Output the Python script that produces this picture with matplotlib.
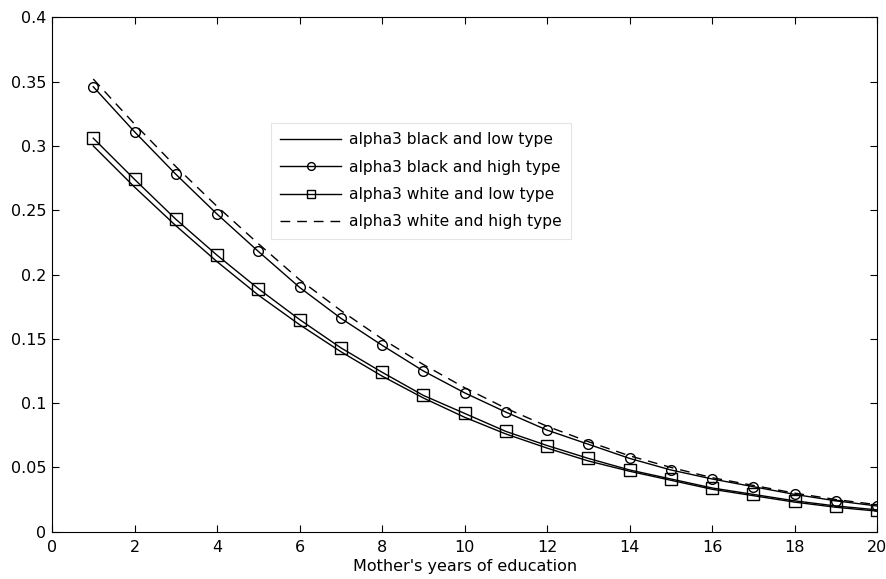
import matplotlib.pyplot as plt

years = list(range(1, 21))

black_low = [0.300, 0.268, 0.238, 0.210, 0.184, 0.161, 0.140, 0.121, 0.104, 0.089,
             0.076, 0.065, 0.055, 0.047, 0.040, 0.033, 0.028, 0.023, 0.019, 0.016]
black_high = [0.346, 0.311, 0.278, 0.247, 0.218, 0.190, 0.166, 0.145, 0.125, 0.108,
              0.093, 0.079, 0.068, 0.057, 0.048, 0.041, 0.035, 0.029, 0.024, 0.020]
white_low = [0.306, 0.274, 0.243, 0.215, 0.189, 0.165, 0.143, 0.124, 0.106, 0.092,
             0.078, 0.067, 0.057, 0.048, 0.041, 0.034, 0.029, 0.024, 0.020, 0.017]
white_high = [0.352, 0.317, 0.284, 0.253, 0.224, 0.196, 0.172, 0.150, 0.130, 0.112,
              0.096, 0.082, 0.070, 0.059, 0.050, 0.042, 0.036, 0.030, 0.025, 0.021]

plt.rcParams['font.family'] = ['DejaVu Sans']
plt.rcParams['font.size'] = 11

fig = plt.figure(figsize=(8.86, 5.79), dpi=100)
ax = fig.add_axes([0.0587, 0.0817, 0.9313, 0.8884])

ax.plot(years, black_low, color='black', lw=1, label='alpha3 black and low type')
ax.plot(years, black_high, color='black', lw=1, marker='o', ms=7, mfc='none',
        mew=1, label='alpha3 black and high type')
ax.plot(years, white_low, color='black', lw=1, marker='s', ms=8, mfc='none',
        mew=1, label='alpha3 white and low type')
ax.plot(years, white_high, color='black', lw=1, ls=(0, (7, 5)),
        label='alpha3 white and high type')

ax.set_xlim(0, 20)
ax.set_ylim(0, 0.4)
ax.set_xticks(range(0, 21, 2))
ax.set_yticks([0, 0.05, 0.1, 0.15, 0.2, 0.25, 0.3, 0.35, 0.4])
ax.set_yticklabels(['0', '0.05', '0.1', '0.15', '0.2', '0.25', '0.3', '0.35', '0.4'])
ax.tick_params(direction='in', top=True, right=True, length=5, width=0.8, labelsize=11.5)
ax.tick_params(axis='x', pad=6)
ax.tick_params(axis='y', pad=4)
ax.set_xlabel("Mother's years of education", fontsize=11.5, labelpad=3)

leg = ax.legend(loc='upper left', bbox_to_anchor=(0.2655, 0.795), borderaxespad=0,
                fancybox=False, framealpha=1, edgecolor='#e4e4e4', fontsize=11.2,
                handlelength=3.9, handletextpad=0.5, borderpad=0.6,
                labelspacing=0.8, markerscale=0.8)
leg.get_frame().set_linewidth(0.8)

fig.savefig('out.png', dpi=100)
